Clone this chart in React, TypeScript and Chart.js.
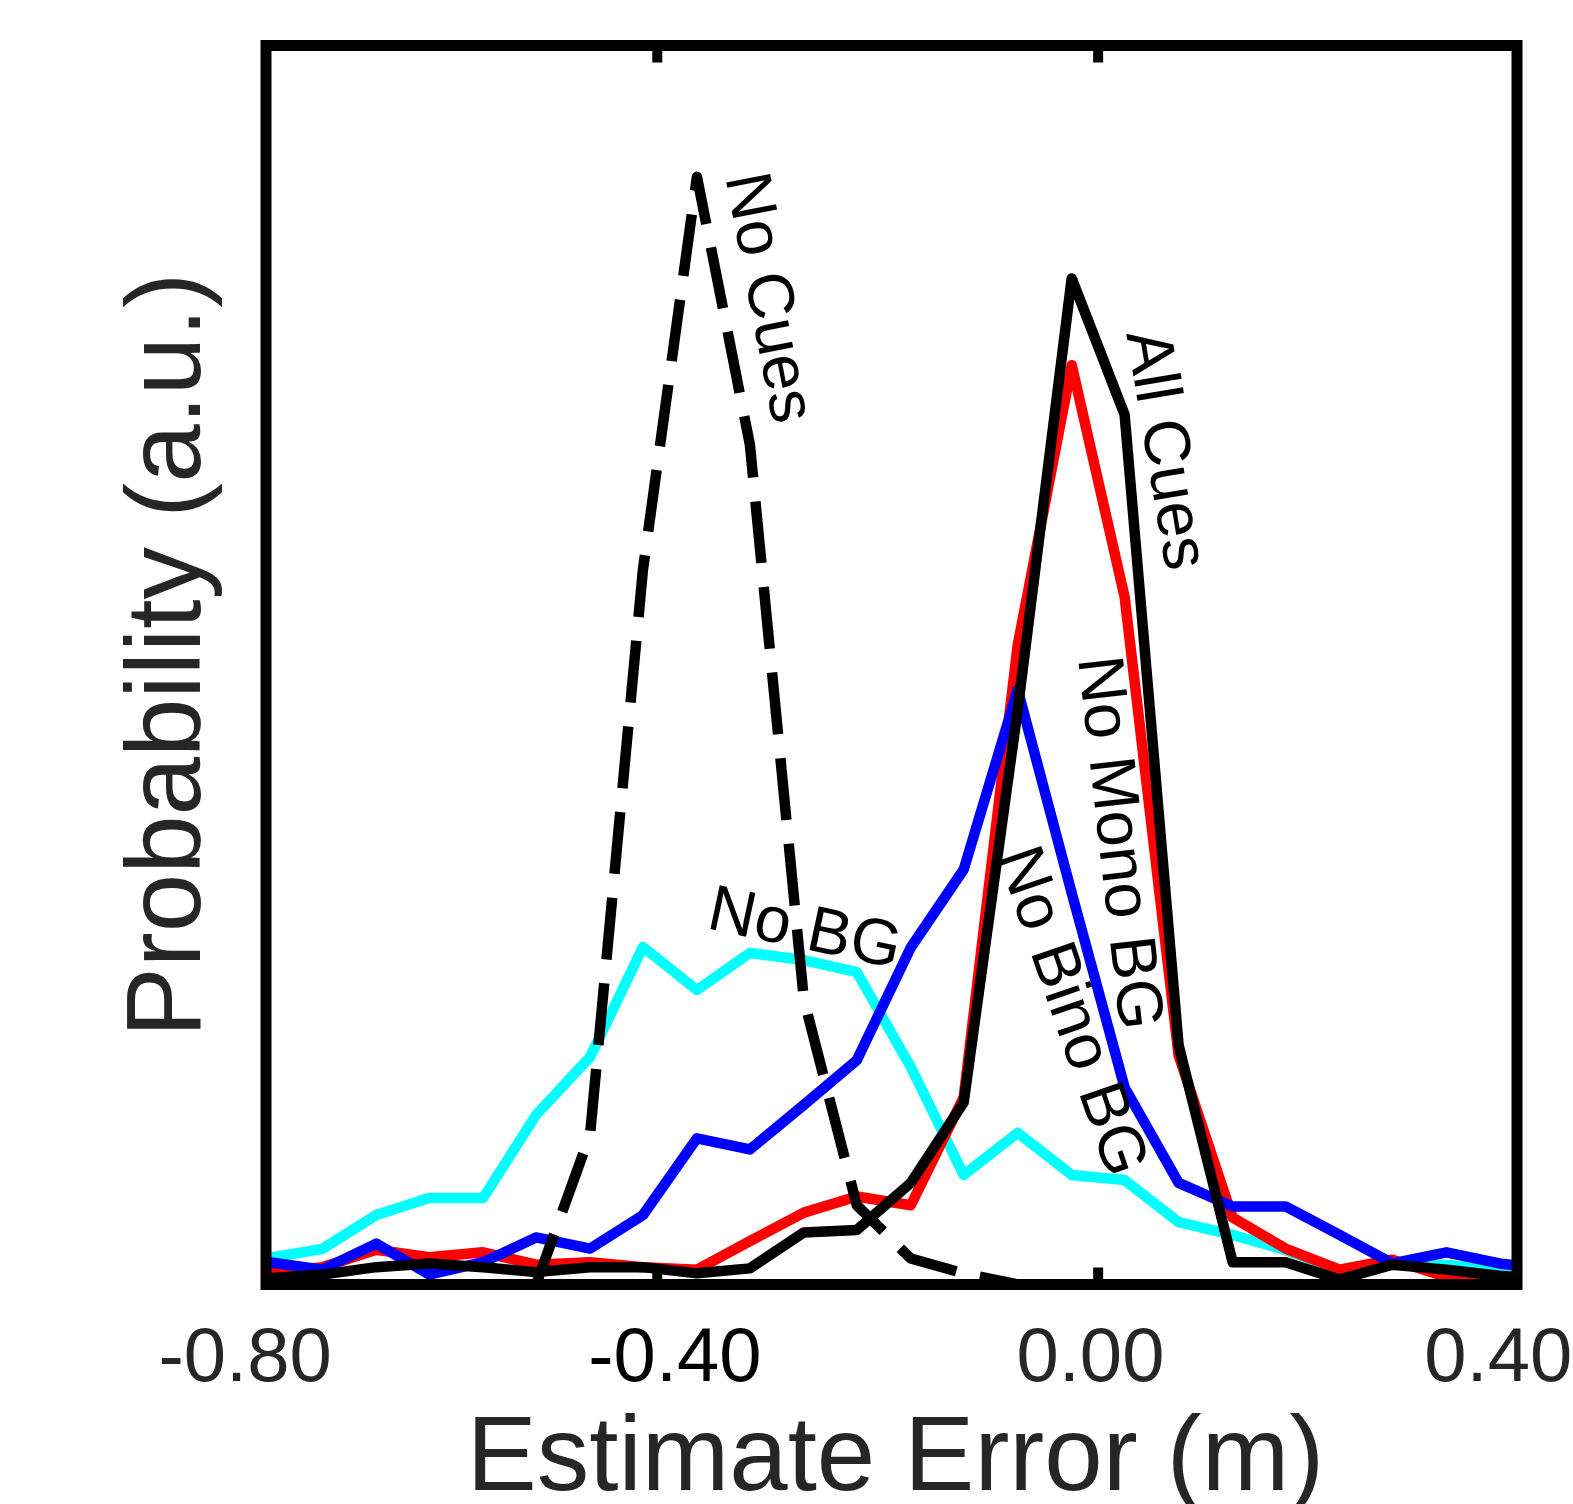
import React, { useEffect, useRef } from "react";
import { Chart, registerables } from "chart.js";

Chart.register(...registerables);

// Histogram bin centres (m)
const binCenters = [
  -0.752, -0.704, -0.655, -0.607, -0.558, -0.510, -0.461, -0.413, -0.364, -0.316,
  -0.267, -0.219, -0.170, -0.122, -0.073, -0.024, 0.024, 0.073, 0.122, 0.170,
  0.219, 0.267, 0.316, 0.364, 0.413,
];

// Series values (probability, arbitrary units)
const allCues = [
  0.005, 0.008, 0.014, 0.017, 0.014, 0.010, 0.014, 0.014, 0.009, 0.013,
  0.042, 0.044, 0.082, 0.147, 0.464, 0.812, 0.702, 0.193, 0.018, 0.018,
  0.004, 0.016, 0.012, 0.007, 0.004,
];
const noCues = [
  0, 0, 0, 0, 0, 0, 0.121, 0.577, 0.894, 0.678,
  0.230, 0.064, 0.021, 0.009, 0, 0, 0, 0, 0, 0,
  0, 0, 0, 0, 0,
];
const noMonoBG = [
  0.009, 0.014, 0.028, 0.022, 0.026, 0.016, 0.018, 0.014, 0.012, 0.035,
  0.058, 0.071, 0.064, 0.151, 0.516, 0.742, 0.555, 0.185, 0.054, 0.029,
  0.012, 0.020, 0.006, 0.005, 0.004,
];
const noBinoBG = [
  0.018, 0.012, 0.033, 0.008, 0.018, 0.038, 0.029, 0.056, 0.118, 0.109,
  0.145, 0.181, 0.272, 0.335, 0.480, 0.316, 0.159, 0.082, 0.063, 0.063,
  0.040, 0.017, 0.026, 0.017, 0.012,
];
const noBG = [
  0.0214, 0.0287, 0.0561, 0.0698, 0.0698, 0.1368, 0.1836, 0.2724, 0.2377, 0.2676,
  0.2619, 0.2522, 0.1755, 0.0884, 0.1223, 0.0884, 0.0843, 0.0504, 0.0400, 0.0278,
  0.0117, 0.0157, 0.0157, 0.0117, 0.006,
];

// Axis
const xMin = -0.755;
const xMax = 0.38;
const xTickMarks = [-0.4, 0.0];
const xTickLabels = ["-0.80", "-0.40", "0.00", "0.40"];
const xTickLabelAnchors = [-0.774, -0.384, -0.007, 0.363];

// In-plot text labels
const annotationTexts = ["No Cues", "All Cues", "No Mono BG", "No Bino BG", "No BG"];
const annotationX = [-0.3005, 0.0597, 0.0171, -0.0256, -0.2665];
const annotationY = [0.7962, 0.6735, 0.3563, 0.2199, 0.2855];
const annotationAngles = [79, 80.5, 83.5, 71, 12];

const FONT = '"Liberation Sans", Arial, Helvetica, sans-serif';

const toPoints = (vals: number[]) => binCenters.map((x, i) => ({ x, y: vals[i] }));

const decorPlugin = {
  id: "decor",
  afterDatasetsDraw(chart: any) {
    const { ctx, chartArea: a, scales } = chart;
    const xs = scales.x;
    const ys = scales.y;
    ctx.save();
    // box
    ctx.strokeStyle = "#000";
    ctx.lineWidth = 11;
    ctx.lineJoin = "miter";
    ctx.strokeRect(a.left, a.top, a.right - a.left, a.bottom - a.top);
    // inward tick marks
    ctx.lineWidth = 10;
    ctx.lineCap = "butt";
    for (const v of xTickMarks) {
      const px = xs.getPixelForValue(v);
      ctx.beginPath();
      ctx.moveTo(px, a.top);
      ctx.lineTo(px, a.top + 17);
      ctx.moveTo(px, a.bottom);
      ctx.lineTo(px, a.bottom - 17);
      ctx.stroke();
    }
    // annotations
    ctx.fillStyle = "#000";
    ctx.font = `65px ${FONT}`;
    ctx.textAlign = "center";
    ctx.textBaseline = "middle";
    annotationTexts.forEach((t, i) => {
      ctx.save();
      ctx.translate(xs.getPixelForValue(annotationX[i]), ys.getPixelForValue(annotationY[i]));
      ctx.rotate((annotationAngles[i] * Math.PI) / 180);
      ctx.fillText(t, 0, 0);
      ctx.restore();
    });
    // tick labels
    ctx.font = `76px ${FONT}`;
    ctx.textBaseline = "alphabetic";
    xTickLabels.forEach((t, i) => {
      ctx.fillStyle = t === "-0.40" ? "#000" : "#262626";
      ctx.fillText(t, xs.getPixelForValue(xTickLabelAnchors[i]), a.bottom + 96);
    });
    // axis titles
    ctx.fillStyle = "#262626";
    ctx.font = `105px ${FONT}`;
    ctx.fillText("Estimate Error (m)", (a.left + a.right) / 2 + 4, a.bottom + 205.5);
    ctx.save();
    ctx.translate(a.left - 66, (a.top + a.bottom) / 2 - 10);
    ctx.rotate(-Math.PI / 2);
    ctx.fillText("Probability (a.u.)", 0, 0);
    ctx.restore();
    ctx.restore();
  },
};

export default function App() {
  const ref = useRef<HTMLCanvasElement>(null);
  useEffect(() => {
    const lw = 10.5;
    const chart = new Chart(ref.current!, {
      type: "line",
      data: {
        datasets: [
          { label: "No Cues", data: toPoints(noCues), borderColor: "#000000", borderWidth: lw, borderDash: [62, 24], borderCapStyle: "butt", order: 0 },
          { label: "All Cues", data: toPoints(allCues), borderColor: "#000000", borderWidth: lw, order: 1 },
          { label: "No Bino BG", data: toPoints(noBinoBG), borderColor: "#0000ff", borderWidth: lw, order: 2 },
          { label: "No Mono BG", data: toPoints(noMonoBG), borderColor: "#ff0000", borderWidth: lw, order: 3 },
          { label: "No BG", data: toPoints(noBG), borderColor: "#00ffff", borderWidth: lw, order: 4 },
        ] as any,
      },
      options: {
        animation: false,
        responsive: false,
        devicePixelRatio: 1,
        layout: { padding: { left: 266, right: 56, top: 45.5, bottom: 219.5 } },
        elements: { point: { radius: 0 }, line: { tension: 0, fill: false, borderJoinStyle: "round" } },
        plugins: { legend: { display: false }, tooltip: { enabled: false } },
        scales: {
          x: { type: "linear", min: xMin, max: xMax, display: false },
          y: { type: "linear", min: 0, max: 1, display: false },
        },
      } as any,
      plugins: [decorPlugin],
    });
    return () => chart.destroy();
  }, []);
  return (
    <div style={{ position: "absolute", left: 0, top: 0, width: 1573, height: 1504, background: "#fff" }}>
      <canvas ref={ref} width={1573} height={1504} style={{ display: "block", width: 1573, height: 1504 }} />
    </div>
  );
}
